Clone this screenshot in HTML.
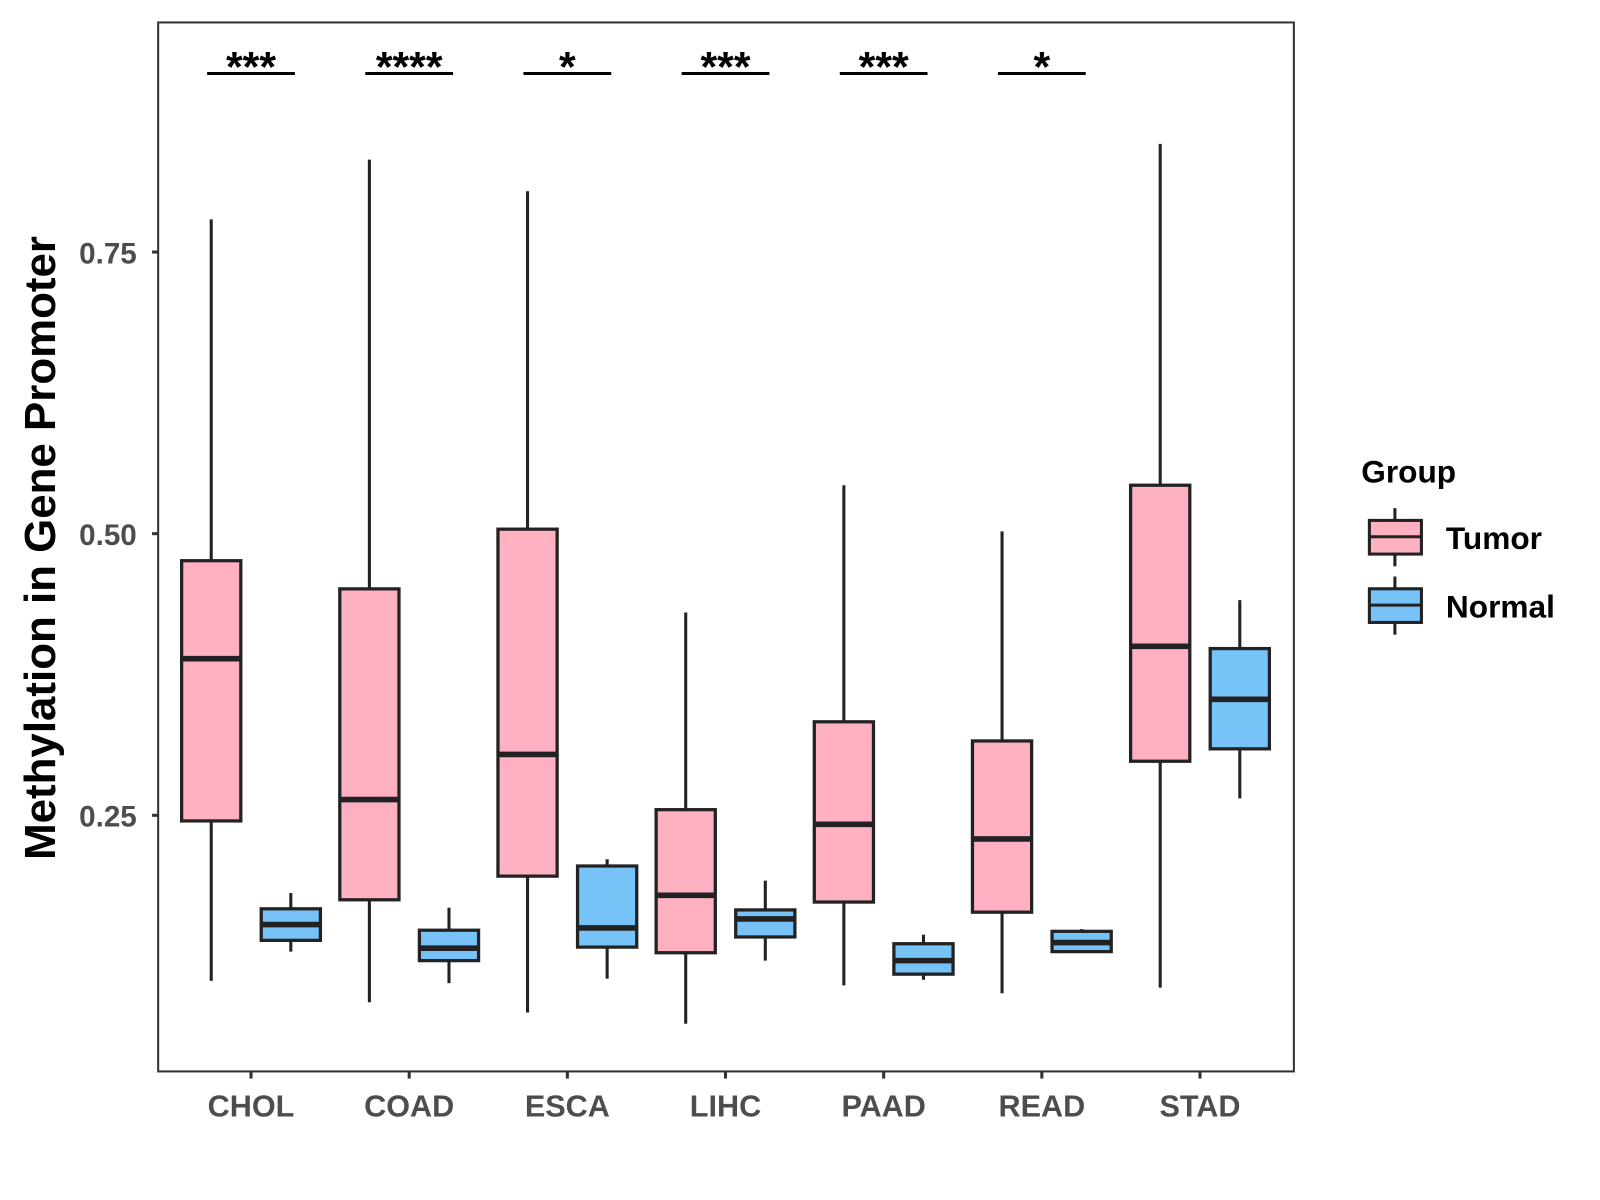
<!DOCTYPE html>
<html><head><meta charset="utf-8"><style>html,body{margin:0;padding:0;background:#fff}svg{display:block}</style></head>
<body>
<svg id="chart" xmlns="http://www.w3.org/2000/svg" width="1600" height="1200" viewBox="0 0 1568 1176" font-family="Liberation Sans, Arial, sans-serif">
<rect x="0" y="0" width="1568" height="1176" fill="#fff"/>
<g id="plot"></g>
<rect x="155" y="22" width="1113" height="1028" fill="none" stroke="#333" stroke-width="2"/>
<text transform="translate(54,537) rotate(-90)" text-anchor="middle" font-size="43" font-weight="bold" fill="#000">Methylation in Gene Promoter</text>
<g>
<text x="1334" y="473" font-size="31" font-weight="bold">Group</text>
<g>
<line x1="1367" y1="498" x2="1367" y2="555" stroke="#222" stroke-width="3"/>
<rect x="1342" y="510" width="51" height="33" fill="#FFB0C1" stroke="#222" stroke-width="3"/>
<line x1="1342" y1="526" x2="1393" y2="526" stroke="#222" stroke-width="3"/>
<text x="1417" y="538" font-size="31" font-weight="bold">Tumor</text></g>
<g>
<line x1="1367" y1="565" x2="1367" y2="622" stroke="#222" stroke-width="3"/>
<rect x="1342" y="577" width="51" height="33" fill="#77C3F8" stroke="#222" stroke-width="3"/>
<line x1="1342" y1="593" x2="1393" y2="593" stroke="#222" stroke-width="3"/>
<text x="1417" y="605" font-size="31" font-weight="bold">Normal</text></g>
</g>
</svg>
<script>
const categories=["CHOL","COAD","ESCA","LIHC","PAAD","READ","STAD"];
const tumorMin=[0.103,0.084,0.075,0.065,0.099,0.092,0.097];
const tumorQ1=[0.245,0.175,0.196,0.128,0.173,0.164,0.298];
const tumorMed=[0.389,0.264,0.304,0.179,0.242,0.229,0.400];
const tumorQ3=[0.476,0.451,0.504,0.255,0.333,0.316,0.543];
const tumorMax=[0.779,0.832,0.804,0.430,0.543,0.502,0.846];
const normalMin=[0.129,0.101,0.105,0.121,0.104,0.128,0.265];
const normalQ1=[0.139,0.121,0.133,0.142,0.109,0.129,0.309];
const normalMed=[0.153,0.132,0.150,0.158,0.121,0.137,0.353];
const normalQ3=[0.167,0.148,0.205,0.166,0.136,0.147,0.398];
const normalMax=[0.181,0.168,0.211,0.192,0.144,0.149,0.441];
const signif=["***","****","*","***","***","*",""];
const yTicks=[0.25,0.50,0.75];
const yTickLabels=["0.25","0.50","0.75"];

const NS="http://www.w3.org/2000/svg";
const g=document.getElementById('plot');
function y(v){return 799-(v-0.25)*1104;}
function xc(i){return 246+155*i;}
function mk(tag,attrs,parent){const e=document.createElementNS(NS,tag);for(const k in attrs)e.setAttribute(k,attrs[k]);(parent||g).appendChild(e);return e;}

yTicks.forEach((t,i)=>{
  const tk=mk('line',{x1:149,x2:155,y1:y(t),y2:y(t),stroke:'#333','stroke-width':3});
  
  
  const tl=mk('text',{x:134,y:y(t)+11,'text-anchor':'end','font-size':29,'font-weight':'bold',fill:'#4d4d4d'});
  tl.textContent=yTickLabels[i];
  
  
});

function box(cx,mn,q1,md,q3,mx,fill,name){
  const grp=mk('g',{});
  
  
  mk('line',{x1:cx,x2:cx,y1:y(mx),y2:y(q3),stroke:'#222','stroke-width':3},grp);
  mk('line',{x1:cx,x2:cx,y1:y(q1),y2:y(mn),stroke:'#222','stroke-width':3},grp);
  mk('rect',{x:cx-29,y:y(q3),width:58,height:y(q1)-y(q3),fill:fill,stroke:'#222','stroke-width':3.2},grp);
  mk('line',{x1:cx-29,x2:cx+29,y1:y(md),y2:y(md),stroke:'#222','stroke-width':5.5},grp);
}

categories.forEach((c,i)=>{
  const cx=xc(i);
  box(cx-39,tumorMin[i],tumorQ1[i],tumorMed[i],tumorQ3[i],tumorMax[i],'#FFB0C1','box-tumor-'+c.toLowerCase());
  box(cx+39,normalMin[i],normalQ1[i],normalMed[i],normalQ3[i],normalMax[i],'#77C3F8','box-normal-'+c.toLowerCase());
  const tk=mk('line',{x1:cx,x2:cx,y1:1050,y2:1057,stroke:'#333','stroke-width':3});
  
  
  const tl=mk('text',{x:cx,y:1094,'text-anchor':'middle','font-size':30,'font-weight':'bold',fill:'#4d4d4d'});
  tl.textContent=c;
  
  
  if(signif[i]){
    const b=mk('line',{x1:cx-43,x2:cx+43,y1:72,y2:72,stroke:'#000','stroke-width':3});
    
    
    const s=mk('text',{x:cx,y:80,'text-anchor':'middle','font-size':42,'font-weight':'bold',fill:'#000'});
    s.textContent=signif[i];
    
    
  }
});
</script>
</body></html>
